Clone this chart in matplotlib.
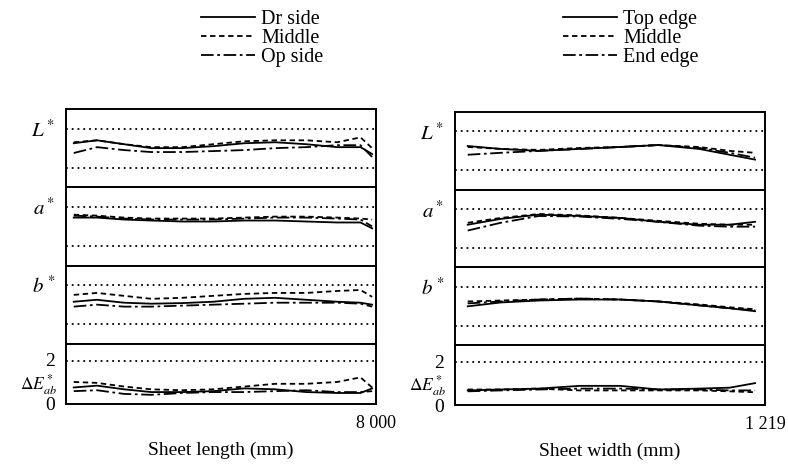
import matplotlib
matplotlib.use('Agg')
import matplotlib.pyplot as plt

plt.rcParams['font.family'] = ['Liberation Serif', 'DejaVu Serif']
plt.rcParams['mathtext.fontset'] = 'stix'

# sheet length (mm), left block
x_len = [200, 800, 1500, 2200, 3000, 3800, 4600, 5400, 6200, 7000, 7600, 7900]
L_dr = [0.25, 0.4, 0.2, 0.0, 0.0, 0.1, 0.25, 0.3, 0.2, 0.05, 0.05, -0.3]
L_mid = [0.3, 0.4, 0.2, 0.05, 0.05, 0.2, 0.35, 0.4, 0.4, 0.3, 0.55, 0.0]
L_op = [-0.25, 0.05, -0.1, -0.2, -0.2, -0.15, -0.1, 0.0, 0.05, 0.15, 0.15, -0.45]
a_dr = [0.45, 0.45, 0.35, 0.3, 0.25, 0.25, 0.3, 0.3, 0.25, 0.2, 0.2, -0.1]
a_mid = [0.6, 0.55, 0.45, 0.4, 0.4, 0.4, 0.45, 0.5, 0.5, 0.45, 0.4, 0.35]
a_op = [0.55, 0.5, 0.4, 0.35, 0.35, 0.35, 0.4, 0.45, 0.45, 0.4, 0.35, 0.0]
b_dr = [0.15, 0.25, 0.1, 0.05, 0.08, 0.15, 0.3, 0.35, 0.25, 0.15, 0.1, 0.0]
b_mid = [0.5, 0.6, 0.45, 0.3, 0.35, 0.45, 0.55, 0.6, 0.6, 0.7, 0.75, 0.4]
b_op = [-0.1, 0.0, -0.1, -0.1, -0.05, 0.0, 0.05, 0.1, 0.1, 0.1, 0.05, -0.1]
dE_dr = [0.55, 0.65, 0.45, 0.3, 0.3, 0.35, 0.5, 0.45, 0.3, 0.25, 0.25, 0.5]
dE_mid = [0.85, 0.8, 0.6, 0.45, 0.4, 0.45, 0.6, 0.75, 0.75, 0.85, 1.1, 0.55]
dE_op = [0.35, 0.4, 0.2, 0.15, 0.25, 0.3, 0.3, 0.35, 0.4, 0.3, 0.3, 0.35]

# sheet width (mm), right block
x_wid = [50, 180, 330, 490, 650, 800, 960, 1080, 1180]
wL_top = [0.25, 0.1, 0.0, 0.1, 0.2, 0.3, 0.1, -0.2, -0.45]
wL_mid = [0.2, 0.1, 0.05, 0.15, 0.2, 0.3, 0.2, 0.0, -0.1]
wL_end = [-0.2, -0.1, 0.0, 0.1, 0.2, 0.3, 0.15, -0.1, -0.35]
wa_top = [0.2, 0.5, 0.72, 0.65, 0.55, 0.35, 0.2, 0.2, 0.35]
wa_mid = [0.3, 0.55, 0.75, 0.68, 0.55, 0.4, 0.25, 0.2, 0.2]
wa_end = [-0.1, 0.3, 0.65, 0.62, 0.5, 0.35, 0.15, 0.1, 0.1]
wb_top = [0.0, 0.2, 0.3, 0.35, 0.35, 0.25, 0.05, -0.1, -0.25]
wb_mid = [0.25, 0.3, 0.35, 0.4, 0.35, 0.25, 0.1, -0.05, -0.15]
wb_end = [0.15, 0.25, 0.35, 0.4, 0.35, 0.25, 0.05, -0.1, -0.2]
wdE_top = [0.45, 0.5, 0.55, 0.7, 0.7, 0.5, 0.55, 0.6, 0.85]
wdE_mid = [0.5, 0.5, 0.55, 0.45, 0.45, 0.45, 0.45, 0.4, 0.35]
wdE_end = [0.4, 0.45, 0.5, 0.55, 0.55, 0.5, 0.5, 0.45, 0.45]

styles = ['-', (0, (3, 2)), (0, (7, 2, 1.5, 2))]
fs = 14

fig = plt.figure(figsize=(7.88, 4.70), dpi=100)


def block(left, right, top, bottom, x, rows, names, xmax, xtick, xlabel, legx):
    gs = fig.add_gridspec(4, 1, left=left, right=right, top=top, bottom=bottom,
                          height_ratios=[78, 78, 78, 60], hspace=0)
    labels = [r'$L^*$', r'$a^*$', r'$b^*$']
    axes = []
    for i in range(4):
        ax = fig.add_subplot(gs[i])
        axes.append(ax)
        for ys, ls in zip(rows[i], styles):
            ax.plot(x, ys, color='black', lw=1.3, linestyle=ls)
        if i < 3:
            ax.set_ylim(-2, 2)
            for g in [-1, 1]:
                ax.axhline(g, color='black', lw=1.3, linestyle=(0, (1, 2.2)))
            ax.set_yticks([1])
            ax.set_yticklabels([labels[i]], fontsize=fs + 1)
        else:
            ax.set_ylim(0, 2.93)
            ax.axhline(2, color='black', lw=1.3, linestyle=(0, (1, 2.2)))
            ax.set_yticks([-0.35, 2.05])
            ax.set_yticklabels(['0', '2'], fontsize=fs)
            ax.text(-0.03, 0.72, r'$\Delta E^*_{ab}$', fontsize=fs - 1.5,
                    ha='right', va='center',
                    transform=ax.get_yaxis_transform())
        ax.set_xlim(0, xmax)
        if i < 3:
            ax.set_xticks([])
        else:
            ax.set_xticks([xmax])
            ax.set_xticklabels([xtick], fontsize=fs - 1)
            ax.set_xlabel(xlabel, fontsize=fs, labelpad=7)
        ax.tick_params(length=0, pad=8)
        for sp in ax.spines.values():
            sp.set_linewidth(1.4)
    hs = axes[0].get_lines()[:3]
    fig.legend(hs, names, loc='upper left', bbox_to_anchor=(legx, 0.997),
               frameon=False, fontsize=fs + 0.5, handlelength=2.7,
               handletextpad=0.3, labelspacing=0.0, borderaxespad=0)
    return axes


block(66 / 788, 376 / 788, 1 - 109 / 470, 1 - 404 / 470, x_len,
      [[L_dr, L_mid, L_op], [a_dr, a_mid, a_op], [b_dr, b_mid, b_op],
       [dE_dr, dE_mid, dE_op]],
      ['Dr side', 'Middle', 'Op side'], 8000, '8 000', 'Sheet length (mm)',
      193 / 788)

block(455 / 788, 765 / 788, 1 - 112 / 470, 1 - 405 / 470, x_wid,
      [[wL_top, wL_mid, wL_end], [wa_top, wa_mid, wa_end],
       [wb_top, wb_mid, wb_end], [wdE_top, wdE_mid, wdE_end]],
      ['Top edge', 'Middle', 'End edge'], 1219, '1 219', 'Sheet width (mm)',
      555 / 788)

fig.savefig('out.png', dpi=100)
